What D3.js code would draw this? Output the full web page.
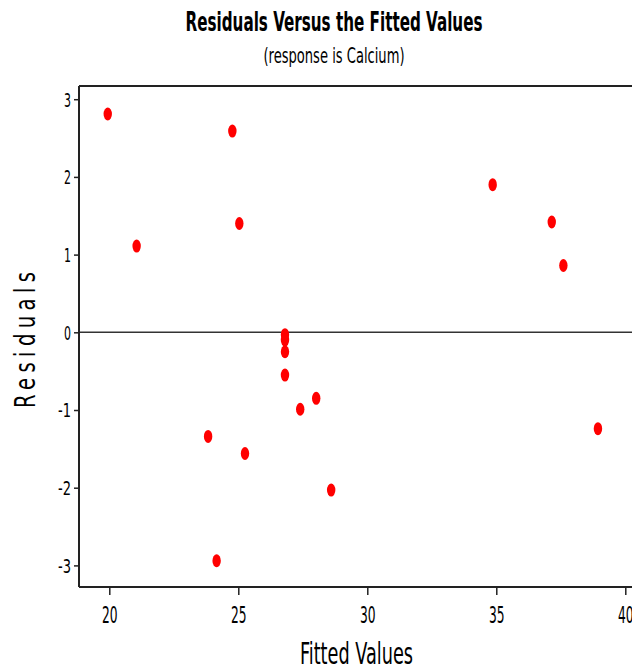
<!DOCTYPE html>
<html>
<head>
<meta charset="utf-8">
<script src="https://cdn.jsdelivr.net/npm/d3@7"></script>
<style>
  body { margin: 0; background: #fff; }
  svg { display: block; }
  text { font-family: "DejaVu Sans Condensed", "DejaVu Sans", sans-serif; fill: #000; }
</style>
</head>
<body>
<div id="chart"></div>
<script>
// fitted values and residuals
const fitted = [19.94, 21.06, 24.77, 25.04, 23.83, 25.26, 24.16, 26.81, 26.81, 26.81, 26.81,
                27.40, 28.02, 28.60, 34.86, 37.15, 37.60, 38.94];
const residuals = [2.81, 1.11, 2.59, 1.40, -1.34, -1.56, -2.94, -0.03, -0.10, -0.25, -0.55,
                   -0.99, -0.85, -2.03, 1.90, 1.42, 0.86, -1.24];
const xTicks = [20, 25, 30, 35, 40];
const yTicks = [-3, -2, -1, 0, 1, 2, 3];

const width = 632, height = 670;
const plotLeft = 79, plotRight = 632, plotTop = 86, plotBottom = 587;

const svg = d3.select("#chart").append("svg")
  .attr("width", width)
  .attr("height", height);

const x = d3.scaleLinear().domain([18.826, 40.26]).range([plotLeft, plotRight]);
const y = d3.scaleLinear().domain([-3.278, 3.17]).range([plotBottom, plotTop]);

// titles
svg.append("text")
  .attr("x", 334).attr("y", 31)
  .attr("text-anchor", "middle")
  .attr("font-size", 27).attr("font-weight", "bold")
  .attr("textLength", 297).attr("lengthAdjust", "spacingAndGlyphs")
  .text("Residuals Versus the Fitted Values");

svg.append("text")
  .attr("x", 334).attr("y", 63)
  .attr("text-anchor", "middle")
  .attr("font-size", 21)
  .attr("textLength", 141).attr("lengthAdjust", "spacingAndGlyphs")
  .text("(response is Calcium)");

// top frame line
svg.append("line")
  .attr("x1", plotLeft).attr("x2", plotRight)
  .attr("y1", plotTop).attr("y2", plotTop)
  .attr("stroke", "#222").attr("stroke-width", 2);

// zero reference line
svg.append("line")
  .attr("x1", plotLeft).attr("x2", plotRight)
  .attr("y1", y(0)).attr("y2", y(0))
  .attr("stroke", "#333").attr("stroke-width", 1.5);

// axes
const xAxis = svg.append("g")
  .attr("transform", "translate(0," + plotBottom + ")")
  .call(d3.axisBottom(x).tickValues(xTicks).tickFormat(d3.format("d"))
    .tickSize(8).tickPadding(3).tickSizeOuter(0));

const yAxis = svg.append("g")
  .attr("transform", "translate(" + plotLeft + ",0)")
  .call(d3.axisLeft(y).tickValues(yTicks).tickFormat(d => String(d))
    .tickSize(5).tickPadding(3).tickSizeOuter(0));

xAxis.select(".domain").attr("stroke", "#222").attr("stroke-width", 2)
  .attr("d", "M" + plotLeft + ",0H" + plotRight);
yAxis.select(".domain").attr("stroke", "#222").attr("stroke-width", 2)
  .attr("d", "M0," + plotTop + "V" + plotBottom);
svg.selectAll(".tick line").attr("stroke", "#222").attr("stroke-width", 1.5);

xAxis.attr("font-family", null).attr("font-size", null);
yAxis.attr("font-family", null).attr("font-size", null);

xAxis.selectAll(".tick text")
  .attr("font-size", 23)
  .attr("dy", null)
  .attr("y", 36)
  .attr("textLength", d => String(d).length * 7.8)
  .attr("lengthAdjust", "spacingAndGlyphs");

yAxis.selectAll(".tick text")
  .attr("font-size", 19)
  .attr("x", -8)
  .attr("dy", "0.36em")
  .attr("textLength", d => (d < 0 ? 13 : 7))
  .attr("lengthAdjust", "spacingAndGlyphs");

// axis titles
svg.append("text")
  .attr("x", 356.5).attr("y", 664)
  .attr("text-anchor", "middle")
  .attr("font-size", 31)
  .attr("textLength", 113).attr("lengthAdjust", "spacingAndGlyphs")
  .text("Fitted Values");

svg.append("text")
  .attr("transform", "translate(35,340) rotate(-90) scale(0.78,1)")
  .attr("text-anchor", "middle")
  .attr("font-size", 28)
  .attr("textLength", 136 / 0.78).attr("lengthAdjust", "spacing")
  .text("Residuals");

// points
svg.append("g")
  .selectAll("ellipse")
  .data(fitted.map((f, i) => ({ fit: f, res: residuals[i] })))
  .enter().append("ellipse")
  .attr("cx", d => x(d.fit))
  .attr("cy", d => y(d.res))
  .attr("rx", 4.2)
  .attr("ry", 6.5)
  .attr("fill", "#ff0000");
</script>
</body>
</html>
